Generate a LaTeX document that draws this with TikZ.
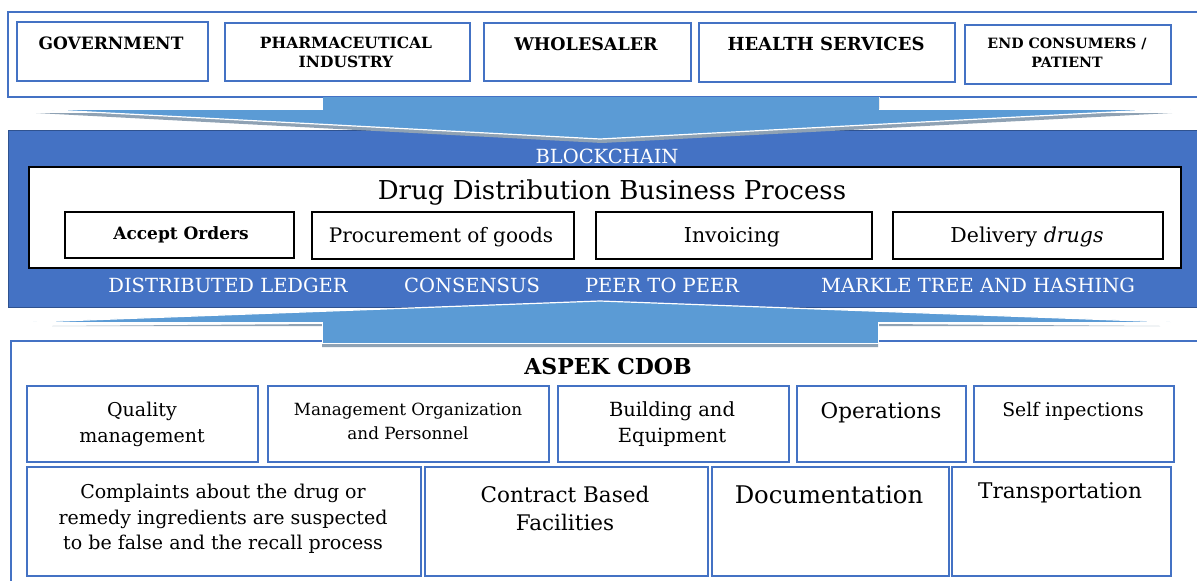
\documentclass[tikz,border=0pt]{standalone}
\usepackage{fontspec}
\setmainfont{DejaVu Serif}
\definecolor{bband}{HTML}{4472C4}
\definecolor{barrow}{HTML}{5B9BD5}
\definecolor{bdark}{HTML}{2F528F}
\definecolor{ashade}{HTML}{8FA2B4}
\newcommand{\fs}[1]{\fontsize{#1}{#1}\selectfont}
\tikzset{
  bx/.style={draw=bband, line width=1.8pt, fill=white, inner sep=0pt, anchor=north west},
  pbx/.style={draw=black, line width=1.6pt, fill=white, inner sep=0pt, anchor=north west},
  txt/.style={inner sep=0pt, align=center},
  wtxt/.style={inner sep=0pt, text=white, font=\fs{19.5}},
}
\begin{document}
\begin{tikzpicture}[x=1pt,y=-1pt]
\useasboundingbox (0,0) rectangle (1197,581);
\fill[white] (0,0) rectangle (1197,581);

% ---------- top stakeholders ----------
\node[bx, line width=1.5pt, minimum width=1200, minimum height=85] (stake) at (7,11) {};
\node[bx, minimum width=191, minimum height=59] (gov) at (16,21) {};
\node[bx, minimum width=245, minimum height=58] (pharma) at (224,22) {};
\node[bx, minimum width=207, minimum height=58] (whole) at (483,22) {};
\node[bx, minimum width=256, minimum height=59] (health) at (698,22) {};
\node[bx, minimum width=206, minimum height=59] (endc) at (964,24) {};
\node[txt, font=\fs{17}\bfseries] (govt) at (111,43) {GOVERNMENT};
\node[txt, font=\fontsize{15.5}{19}\selectfont\bfseries] (pharmat) at (346,52) {PHARMACEUTICAL\\INDUSTRY};
\node[txt, font=\fs{17.5}\bfseries] (wholet) at (586,44) {WHOLESALER};
\node[txt, font=\fs{18}\bfseries] (healtht) at (826,44) {HEALTH SERVICES};
\node[txt, font=\fontsize{14.2}{19}\selectfont\bfseries] (endct) at (1067,53) {END CONSUMERS /\\PATIENT};

% ---------- blockchain band ----------
\node[draw=bdark, fill=bband, line width=1pt, inner sep=0pt, anchor=north west,
      minimum width=1200, minimum height=177] (band) at (8,130) {};
\node[wtxt] (bct) at (607,156) {BLOCKCHAIN};
\node[pbx, line width=2pt, minimum width=1152, minimum height=101] (proc) at (28,166) {};
\node[txt, font=\fs{26}] (proct) at (612,193) {Drug Distribution Business Process};
\node[pbx, minimum width=229, minimum height=46] (acc) at (64,211) {};
\node[pbx, minimum width=262, minimum height=47] (pro) at (311,211) {};
\node[pbx, minimum width=276, minimum height=47] (inv) at (595,211) {};
\node[pbx, minimum width=270, minimum height=47] (del) at (892,211) {};
\node[txt, font=\fs{17}\bfseries] (acct) at (181,235) {Accept Orders};
\node[txt, font=\fs{20}] (prot) at (441,237) {Procurement of goods};
\node[txt, font=\fs{20.5}] (invt) at (732,237) {Invoicing};
\node[txt, font=\fs{20.5}] (delt) at (1027,237) {Delivery \textit{drugs}};
\node[wtxt] (l1) at (228,285) {DISTRIBUTED LEDGER};
\node[wtxt] (l2) at (472,285) {CONSENSUS};
\node[wtxt] (l3) at (662,285) {PEER TO PEER};
\node[wtxt] (l4) at (978,285) {MARKLE TREE AND HASHING};

% ---------- top arrow ----------
\fill[ashade] (36,113) -- (323,113) -- (879,113) -- (1172,113) -- (602,143) -- cycle;
\fill[barrow] (33,109) -- (323,109) -- (323,97) -- (879,97) -- (879,109) -- (1170,109) -- (600,139) -- cycle;
\draw[white, line width=1pt] (33,109) -- (323,109) (879,109) -- (1170,109);
\draw[white, line width=1.2pt] (33,109) -- (600,139) -- (1170,109);
\draw[white!85!gray, line width=1pt] (879,97) -- (879,109);

% ---------- bottom box ----------
\node[bx, line width=1.5pt, minimum width=1200, minimum height=250] (aspek) at (10,340) {};
\node[txt, font=\fs{22}\bfseries] (aspekt) at (608,366) {ASPEK CDOB};

% ---------- bottom arrow ----------
\fill[ashade] (52,326) -- (322,326) -- (322,347) -- (878,347) -- (878,326) -- (1160,326) -- (878,324) -- (322,324) -- cycle;
\fill[barrow] (600,301) -- (1170,322) -- (878,322) -- (878,343) -- (322,343) -- (322,322) -- (33,322) -- cycle;
\draw[white, line width=1.2pt] (33,322) -- (600,301) -- (1170,322);
\draw[white, line width=1pt] (33,322) -- (322,322) -- (322,343) -- (878,343) -- (878,322) -- (1170,322);

% ---------- CDOB aspects ----------
\node[bx, minimum width=231, minimum height=76] (q) at (26,385) {};
\node[bx, minimum width=281, minimum height=76] (m) at (267,385) {};
\node[bx, minimum width=231, minimum height=76] (b) at (557,385) {};
\node[bx, minimum width=169, minimum height=76] (o) at (796,385) {};
\node[bx, minimum width=200, minimum height=76] (s) at (973,385) {};
\node[bx, minimum width=394, minimum height=109] (c) at (26,466) {};
\node[bx, minimum width=283, minimum height=109] (cb) at (424,466) {};
\node[bx, minimum width=237, minimum height=109] (d) at (711,466) {};
\node[bx, minimum width=219, minimum height=109] (t) at (951,466) {};

\node[txt, font=\fontsize{19}{26}\selectfont] (qt) at (142,424) {Quality\\management};
\node[txt, font=\fontsize{16.8}{24}\selectfont] (mt) at (408,421) {Management Organization\\and Personnel};
\node[txt, font=\fontsize{19.5}{26}\selectfont] (bt) at (672,424) {Building and\\Equipment};
\node[txt, font=\fs{21.5}] (ot) at (881,413) {Operations};
\node[txt, font=\fs{18.8}] (st) at (1073,411) {Self inpections};
\node[txt, font=\fontsize{19}{25.5}\selectfont] (ct) at (223,519) {Complaints about the drug or\\remedy ingredients are suspected\\to be false and the recall process};
\node[txt, font=\fontsize{21.5}{28}\selectfont] (cbt) at (565,508) {Contract Based\\Facilities};
\node[txt, font=\fs{24.3}] (dt) at (829,495) {Documentation};
\node[txt, font=\fs{21.6}] (tt) at (1060,493) {Transportation};
\end{tikzpicture}
\end{document}
